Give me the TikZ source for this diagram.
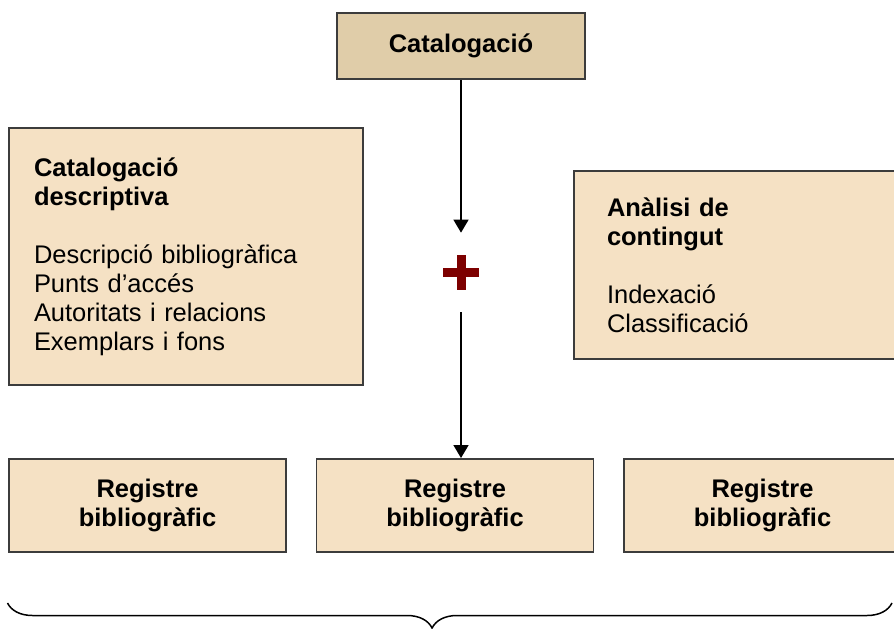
\documentclass[tikz,border=0pt]{standalone}
\usepackage{fontspec}
\setmainfont{Liberation Sans}
\usepackage{xcolor}
\usepackage{tikz}
\usetikzlibrary{positioning,calc,arrows.meta,decorations.pathreplacing}

\definecolor{catfill}{HTML}{E0CDA9}
\definecolor{boxfill}{HTML}{F5E1C4}
\definecolor{plusred}{HTML}{7D0000}
\definecolor{edge}{HTML}{3C3C3C}

\begin{document}
\begin{tikzpicture}[
    box/.style={draw=edge, line width=1.1pt, fill=boxfill, inner sep=0pt,
        font=\fontsize{14.5}{16.5}\selectfont},
    regbox/.style={box, minimum width=5.54cm, minimum height=1.86cm,
        align=center, font=\fontsize{14.5}{16.5}\selectfont\bfseries},
    link/.style={line width=0.85pt, -{Triangle[length=0.26cm,width=0.3cm]}}
]
    % Canvas
    \clip (0,0) rectangle (17.88,-12.56);

    % Top box
    \node[box, fill=catfill, minimum width=4.96cm, minimum height=1.32cm,
        font=\fontsize{14.5}{16.5}\selectfont\bfseries] (cat) at (9.22,-0.92) {Catalogació};

    % Side boxes
    \node[box, minimum width=7.08cm, minimum height=5.14cm, text width=6.08cm,
        align=left] (desc) at (3.72,-5.13)
        {\textbf{Catalogació}\\\textbf{descriptiva}\\[16.5pt]
         Descripció bibliogràfica\\Punts d’accés\\Autoritats i relacions\\Exemplars i fons};
    \node[box, minimum width=7.08cm, minimum height=3.76cm, text width=5.76cm,
        align=left] (anal) at (15.02,-5.30)
        {\textbf{Anàlisi de}\\\textbf{contingut}\\[16.5pt]
         Indexació\\Classificació};

    % Plus sign
    \node[minimum width=0.72cm, minimum height=1.58cm, inner sep=0pt] (plus) at (9.22,-5.45) {};
    \fill[plusred] ([xshift=-0.36cm,yshift=-0.09cm]plus.center) rectangle ([xshift=0.36cm,yshift=0.09cm]plus.center);
    \fill[plusred] ([xshift=-0.09cm,yshift=-0.35cm]plus.center) rectangle ([xshift=0.09cm,yshift=0.35cm]plus.center);

    % Bottom boxes
    \node[regbox] (reg1) at (2.95,-10.11) {Registre\\bibliogràfic};
    \node[regbox] (reg2) at (9.10,-10.11) {Registre\\bibliogràfic};
    \node[regbox] (reg3) at (15.25,-10.11) {Registre\\bibliogràfic};

    % Arrows
    \draw[link] (cat) -- (plus);
    \draw[link] (plus) -- (plus |- reg2.north);

    % Brace
    \coordinate (bl) at (0.15,-12.06);
    \coordinate (br) at (17.84,-12.06);
    \draw[line width=0.85pt, decorate,
        decoration={brace, mirror, amplitude=0.5cm, aspect=0.48}] (bl) -- (br);
\end{tikzpicture}
\end{document}
